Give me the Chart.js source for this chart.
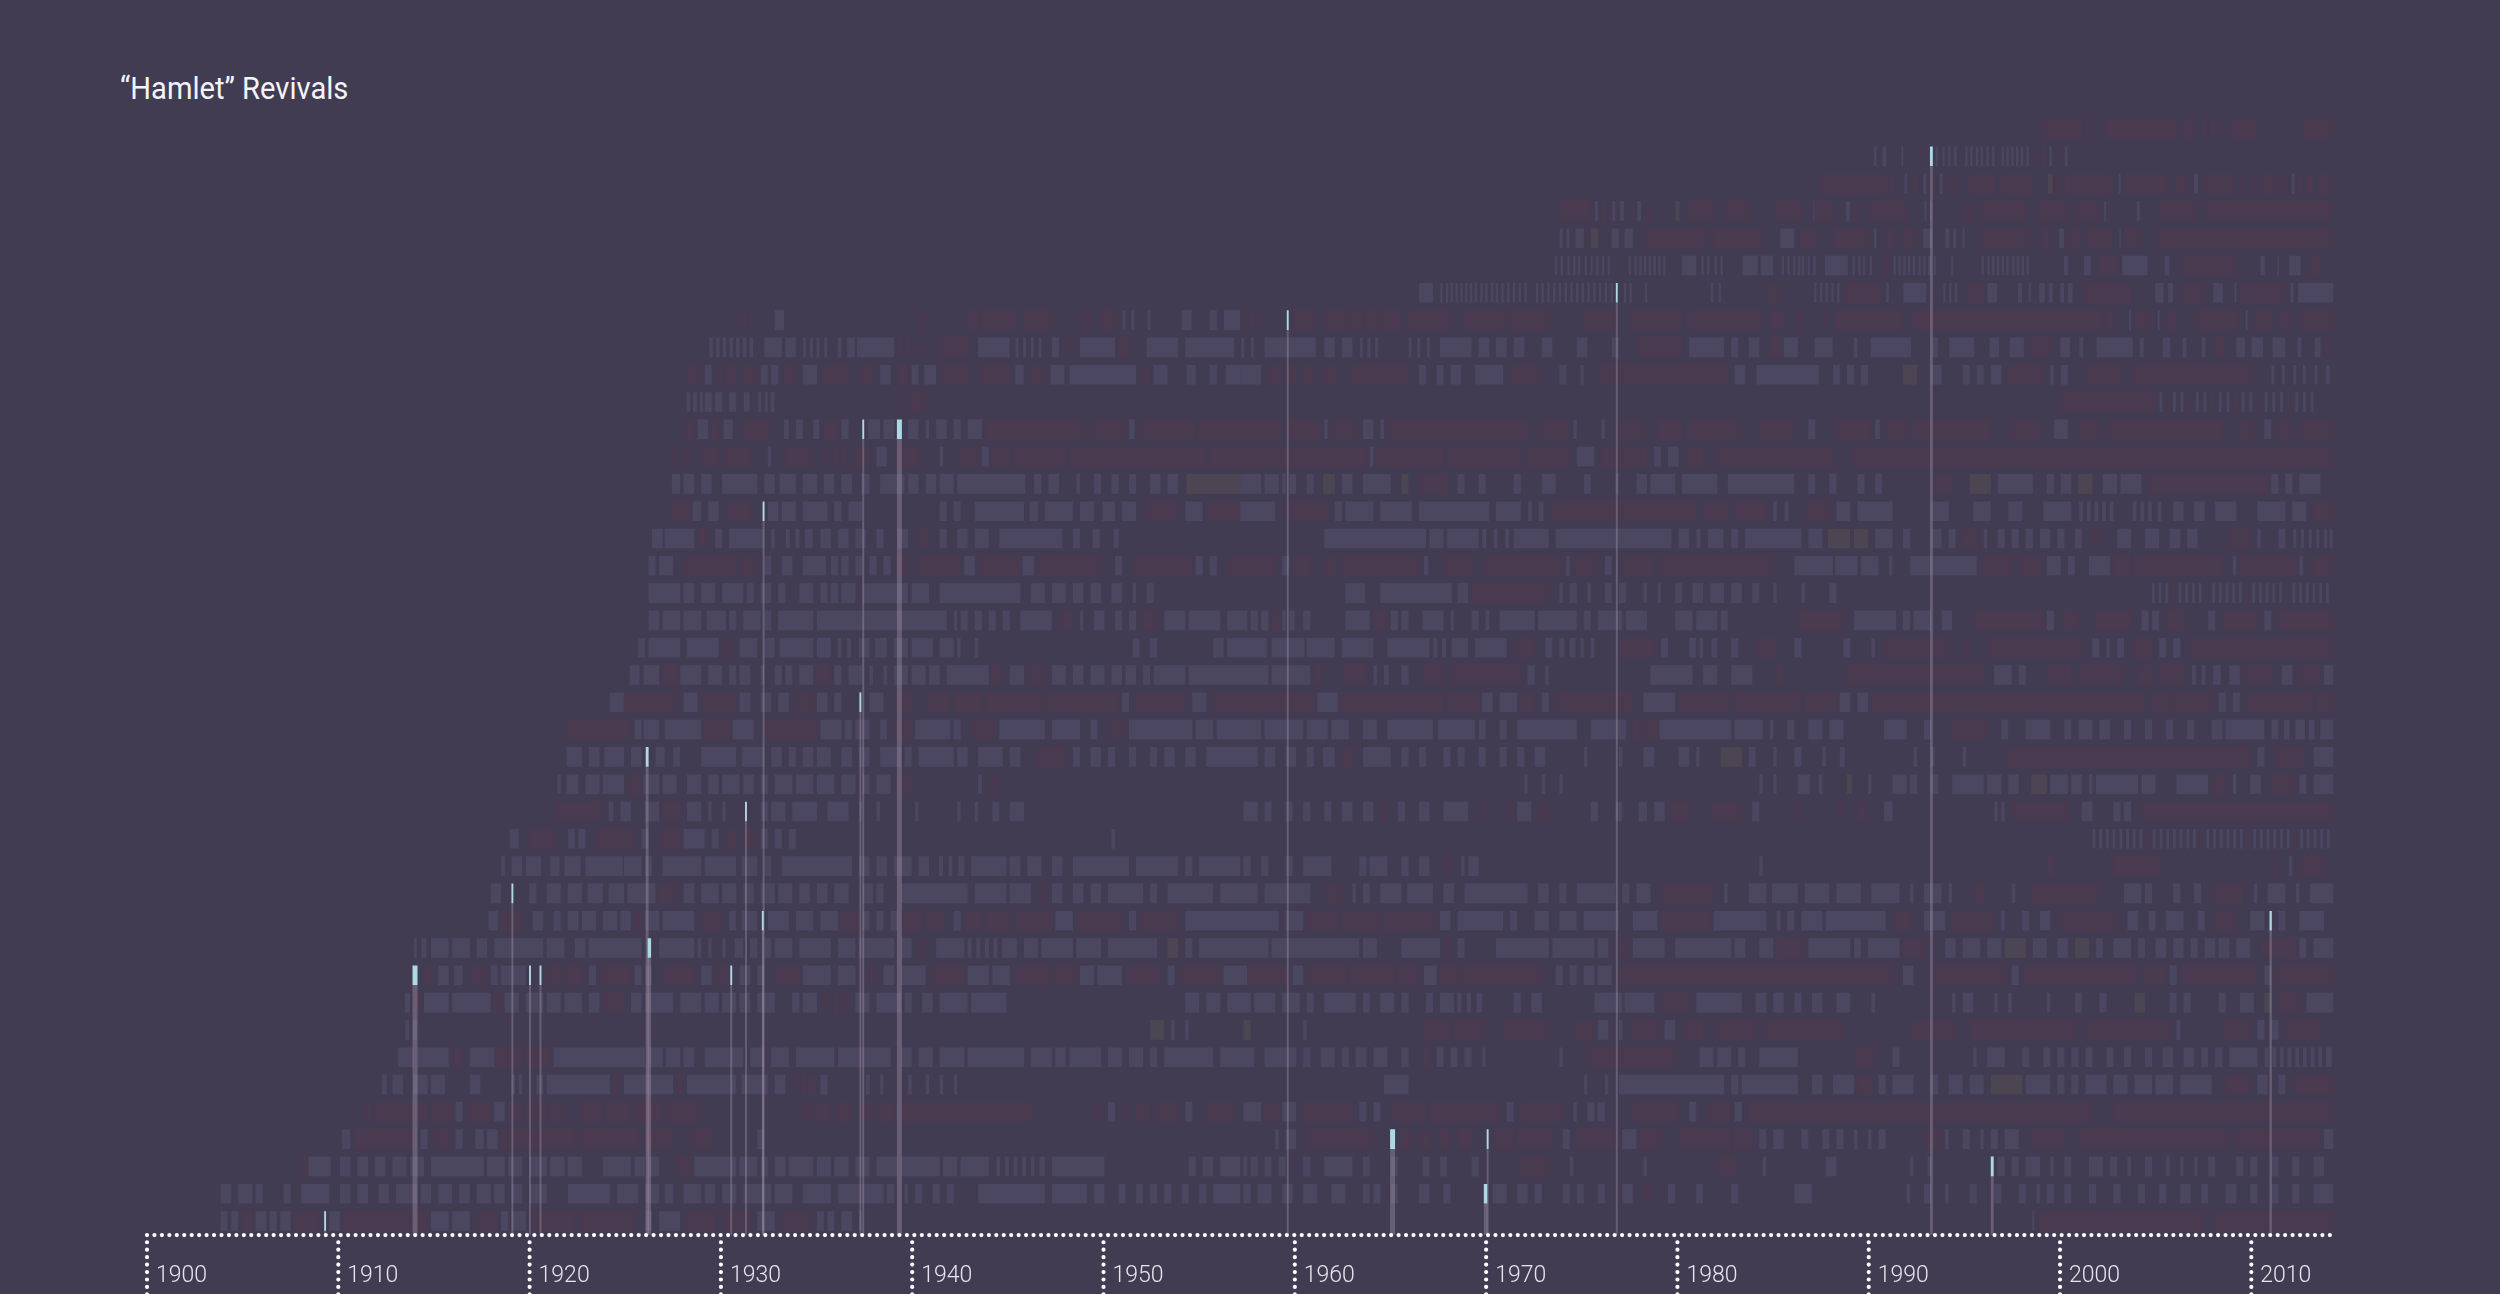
<!DOCTYPE html>
<html><head><meta charset="utf-8">
<script src="https://cdn.jsdelivr.net/npm/chart.js@4.4.1/dist/chart.umd.min.js"></script>
<style>
html,body{margin:0;padding:0;background:#423c53;overflow:hidden;}
#wrap{position:relative;width:2500px;height:1294px;}
#title{position:absolute;left:120px;top:72px;font-family:Roboto,"Noto Sans",sans-serif;font-size:32px;line-height:32px;color:#f4f3f8;white-space:nowrap;transform:scaleX(0.91);transform-origin:left top;}
canvas{position:absolute;left:0;top:0;}
</style></head>
<body><div id="wrap"><div id="title">“Hamlet” Revivals</div><canvas id="c" width="2500" height="1294"></canvas></div>
<script>
const chartTitle = '“Hamlet” Revivals';
const decades = [1900,1910,1920,1930,1940,1950,1960,1970,1980,1990,2000,2010];
// Hamlet productions: [row, start year, end year]
const hamlet = [[1,1993.2,1993.35],[6,1976.78,1976.88],[7,1959.58,1959.68],[11,1937.39,1937.49],[11,1939.2,1939.46],[14,1932.18,1932.28],[21,1937.24,1937.34],[23,1926.07,1926.22],[25,1931.26,1931.36],[28,1919.05,1919.15],[29,1932.14,1932.24],[30,1926.17,1926.35],[31,1913.88,1914.14],[31,1919.97,1920.07],[31,1920.52,1920.62],[31,1930.49,1930.59],[40,1909.26,1909.36],[37,1964.98,1965.24],[37,1970.03,1970.13],[39,1969.88,1970.06],[38,1996.38,1996.53],[29,2010.95,2011.07]];
// Other shows per row (theatre): [start, end, kind] kind g=gray m=maroon o=olive
const rows = [
/*0*/[[1999.1,2001.1,'m'],[2001.4,2001.7,'m'],[2002.4,2006.1,'m'],[2006.5,2007.0,'m'],[2007.45,2007.65,'m'],[2007.9,2008.1,'m'],[2008.35,2008.6,'m'],[2009.0,2010.2,'m'],[2012.65,2014.2,'m']],
/*1*/[[1990.27,1990.41,'g'],[1990.71,1990.91,'g'],[1991.71,1991.81,'g'],[1992.77,1992.91,'m'],[1993.5,1993.62,'g'],[1993.85,1993.97,'g'],[1994.15,1994.27,'g'],[1994.45,1994.6,'g'],[1995.05,1995.17,'g'],[1995.3,1995.42,'g'],[1995.6,1995.72,'g'],[1995.85,1995.97,'g'],[1996.15,1996.27,'g'],[1996.45,1996.57,'g'],[1996.95,1997.07,'g'],[1997.2,1997.32,'g'],[1997.45,1997.57,'g'],[1997.7,1997.82,'g'],[1997.95,1998.07,'g'],[1998.25,1998.37,'g'],[1998.75,1998.87,'m'],[1999.05,1999.2,'m'],[1999.45,1999.57,'g'],[1999.9,2000.05,'m'],[2000.25,2000.4,'g']],
/*2*/[[1987.41,1987.51,'m'],[1987.57,1990.97,'m'],[1991.15,1991.27,'m'],[1991.87,1992.01,'g'],[1992.31,1992.51,'m'],[1992.85,1993.01,'g'],[1993.21,1993.31,'m'],[1993.71,1993.85,'g'],[1994.21,1994.61,'m'],[1995.21,1996.61,'m'],[1996.87,1998.55,'m'],[1999.37,1999.61,'o'],[1999.77,2000.01,'m'],[2000.25,2002.71,'m'],[2003.07,2003.17,'g'],[2003.37,2005.57,'m'],[2006.11,2006.61,'m'],[2007.01,2007.21,'g'],[2007.47,2009.11,'m'],[2009.51,2009.65,'m'],[2009.99,2010.21,'m'],[2010.51,2011.31,'m'],[2011.41,2011.81,'m'],[2012.11,2012.25,'g'],[2012.41,2012.61,'m'],[2012.85,2013.21,'m'],[2013.51,2014.3,'m']],
/*3*/[[1973.9,1975.47,'m'],[1975.7,1975.85,'g'],[1976.1,1976.3,'m'],[1976.6,1976.75,'g'],[1977.0,1977.2,'g'],[1977.5,1977.7,'m'],[1977.9,1978.1,'g'],[1978.4,1978.6,'m'],[1979.9,1980.1,'o'],[1980.61,1981.89,'m'],[1982.44,1983.73,'m'],[1985.19,1986.48,'m'],[1987.11,1987.17,'g'],[1987.21,1988.11,'m'],[1988.81,1989.01,'g'],[1989.17,1989.51,'m'],[1990.05,1991.97,'m'],[1992.91,1993.01,'g'],[1993.21,1993.31,'g'],[1994.91,1995.41,'m'],[1995.85,1998.25,'m'],[1998.91,2000.45,'m'],[2000.85,2002.01,'m'],[2002.31,2002.41,'g'],[2004.01,2004.17,'g'],[2005.27,2007.11,'m'],[2007.57,2014.21,'m']],
/*4*/[[1973.85,1974.0,'g'],[1974.2,1974.35,'g'],[1974.67,1975.11,'g'],[1975.47,1975.84,'o'],[1976.57,1976.94,'g'],[1977.24,1977.67,'g'],[1978.22,1981.53,'m'],[1981.89,1984.46,'m'],[1985.38,1986.11,'g'],[1986.41,1987.25,'m'],[1988.17,1989.97,'m'],[1990.27,1990.41,'g'],[1990.77,1991.37,'m'],[1991.77,1992.41,'m'],[1992.85,1993.31,'g'],[1994.01,1994.21,'g'],[1994.41,1994.57,'g'],[1994.91,1995.01,'g'],[1995.81,1998.11,'m'],[1998.37,1998.57,'m'],[1999.01,1999.51,'m'],[1999.95,2000.21,'g'],[2000.37,2001.01,'m'],[2001.31,2002.71,'m'],[2003.11,2003.17,'g'],[2003.31,2004.21,'m'],[2004.97,2014.21,'m']],
/*5*/[[1973.6,1973.72,'g'],[1973.9,1974.02,'g'],[1974.25,1974.37,'g'],[1974.55,1974.67,'g'],[1974.8,1974.92,'g'],[1975.15,1975.27,'g'],[1975.45,1975.57,'g'],[1975.75,1975.87,'g'],[1976.05,1976.17,'g'],[1976.35,1976.47,'g'],[1977.45,1977.57,'g'],[1977.75,1977.87,'g'],[1978.0,1978.12,'g'],[1978.25,1978.37,'g'],[1978.5,1978.62,'g'],[1978.75,1978.87,'g'],[1979.0,1979.12,'g'],[1979.25,1979.37,'g'],[1980.24,1980.98,'g'],[1981.25,1981.37,'g'],[1981.55,1981.67,'g'],[1981.95,1982.07,'g'],[1982.25,1982.37,'g'],[1983.4,1984.2,'g'],[1984.35,1985.0,'g'],[1985.45,1985.57,'g'],[1985.75,1985.87,'g'],[1986.05,1986.17,'g'],[1986.3,1986.42,'g'],[1986.5,1986.62,'g'],[1986.8,1986.92,'g'],[1987.1,1987.22,'g'],[1987.71,1988.91,'g'],[1989.15,1989.27,'g'],[1989.45,1989.57,'g'],[1989.7,1989.82,'g'],[1990.05,1990.17,'g'],[1990.71,1991.11,'m'],[1991.3,1991.42,'g'],[1991.55,1991.67,'g'],[1991.8,1991.92,'g'],[1992.05,1992.17,'g'],[1992.3,1992.42,'g'],[1992.6,1992.72,'g'],[1992.85,1992.97,'g'],[1993.1,1993.22,'g'],[1993.4,1993.52,'g'],[1994.31,1994.41,'g'],[1995.9,1996.02,'g'],[1996.2,1996.32,'g'],[1996.45,1996.57,'g'],[1996.7,1996.82,'g'],[1996.95,1997.07,'g'],[1997.2,1997.32,'g'],[1997.5,1997.62,'g'],[1997.75,1997.87,'g'],[1998.0,1998.12,'g'],[1998.25,1998.37,'g'],[2000.21,2000.41,'g'],[2001.25,2001.61,'g'],[2001.97,2003.05,'m'],[2003.25,2004.57,'g'],[2005.47,2005.71,'g'],[2006.47,2009.21,'m'],[2010.47,2010.71,'g'],[2011.37,2011.45,'g'],[2011.97,2012.57,'g'],[2013.11,2013.65,'m']],
/*6*/[[1966.49,1967.22,'g'],[1967.6,1967.72,'g'],[1967.9,1968.02,'g'],[1968.15,1968.27,'g'],[1968.4,1968.52,'g'],[1968.65,1968.77,'g'],[1968.9,1969.02,'g'],[1969.15,1969.27,'g'],[1969.4,1969.52,'g'],[1969.7,1969.82,'g'],[1969.95,1970.07,'g'],[1970.25,1970.37,'g'],[1970.5,1970.62,'g'],[1970.8,1970.92,'g'],[1971.1,1971.22,'g'],[1971.4,1971.52,'g'],[1971.7,1971.82,'g'],[1972.0,1972.12,'g'],[1972.6,1972.72,'g'],[1972.9,1973.02,'g'],[1973.2,1973.32,'g'],[1973.5,1973.62,'g'],[1973.8,1973.92,'g'],[1974.1,1974.22,'g'],[1974.4,1974.52,'g'],[1974.7,1974.82,'g'],[1975.0,1975.12,'g'],[1975.3,1975.42,'g'],[1975.6,1975.72,'g'],[1975.9,1976.02,'g'],[1976.2,1976.32,'g'],[1976.5,1976.62,'g'],[1977.2,1977.32,'g'],[1977.5,1977.62,'g'],[1978.3,1978.42,'g'],[1981.75,1981.87,'g'],[1982.15,1982.27,'g'],[1984.8,1985.4,'m'],[1987.15,1987.27,'g'],[1987.45,1987.57,'g'],[1987.75,1987.87,'g'],[1988.05,1988.17,'g'],[1988.35,1988.47,'g'],[1988.71,1990.61,'m'],[1990.91,1991.05,'g'],[1991.81,1993.01,'g'],[1993.9,1994.02,'g'],[1994.2,1994.32,'g'],[1994.5,1994.62,'g'],[1995.21,1996.05,'m'],[1996.21,1996.71,'g'],[1997.81,1998.01,'g'],[1998.37,1998.47,'g'],[1998.91,1999.21,'g'],[1999.41,1999.61,'g'],[2000.01,2000.21,'g'],[2000.41,2000.65,'g'],[2001.25,2003.71,'m'],[2004.97,2005.41,'g'],[2005.65,2005.91,'g'],[2006.35,2007.61,'m'],[2008.01,2008.51,'g'],[2009.11,2009.21,'g'],[2009.47,2011.77,'m'],[2012.05,2012.21,'g'],[2012.45,2014.3,'g']],
/*7*/[[1931.2,1931.35,'m'],[1931.55,1931.7,'m'],[1932.82,1933.3,'g'],[1940.33,1940.7,'m'],[1942.9,1943.45,'m'],[1943.64,1945.47,'m'],[1945.84,1947.3,'m'],[1948.8,1949.0,'m'],[1949.2,1949.4,'m'],[1949.8,1950.6,'m'],[1951.0,1951.15,'g'],[1951.45,1951.6,'g'],[1952.3,1952.45,'g'],[1954.1,1954.6,'g'],[1955.55,1955.92,'g'],[1956.3,1957.14,'g'],[1957.3,1957.45,'m'],[1957.7,1957.85,'m'],[1958.2,1958.4,'m'],[1959.89,1961.17,'m'],[1961.47,1962.82,'m'],[1963.0,1963.56,'m'],[1963.74,1964.47,'m'],[1964.66,1965.57,'m'],[1965.94,1968.14,'m'],[1968.8,1970.89,'m'],[1971.07,1973.27,'m'],[1975.11,1976.76,'m'],[1977.49,1980.24,'m'],[1980.61,1984.35,'m'],[1984.82,1985.56,'m'],[1986.11,1986.48,'m'],[1987.58,1987.76,'m'],[1988.17,1991.77,'m'],[1992.31,2002.21,'m'],[2002.41,2002.81,'m'],[2003.61,2003.71,'g'],[2004.01,2004.65,'m'],[2005.11,2005.21,'g'],[2005.51,2006.11,'m'],[2007.07,2009.31,'m'],[2009.71,2009.81,'g'],[2010.11,2011.11,'m'],[2011.51,2012.21,'m'],[2012.51,2014.3,'m']],
/*8*/[[1929.4,1929.58,'g'],[1929.75,1929.93,'g'],[1930.1,1930.28,'g'],[1930.45,1930.63,'g'],[1930.8,1930.98,'g'],[1931.15,1931.33,'g'],[1931.5,1931.68,'g'],[1932.27,1933.18,'g'],[1933.37,1933.92,'g'],[1934.3,1934.45,'g'],[1934.65,1934.8,'g'],[1935.0,1935.15,'g'],[1935.4,1935.55,'g'],[1936.1,1936.3,'g'],[1936.6,1937.0,'g'],[1937.11,1939.05,'g'],[1939.3,1939.45,'m'],[1939.7,1939.85,'m'],[1940.1,1940.25,'m'],[1940.6,1940.75,'m'],[1941.0,1941.15,'m'],[1941.44,1942.9,'m'],[1943.45,1945.1,'g'],[1945.4,1945.55,'g'],[1945.8,1945.95,'g'],[1946.2,1946.35,'g'],[1946.6,1946.75,'g'],[1947.3,1947.67,'g'],[1948.11,1948.4,'m'],[1948.77,1950.6,'g'],[1950.79,1951.33,'m'],[1952.25,1953.9,'g'],[1954.27,1956.84,'g'],[1957.2,1957.35,'g'],[1957.7,1957.85,'g'],[1958.42,1961.1,'g'],[1961.54,1962.09,'g'],[1962.46,1963.01,'g'],[1963.4,1963.55,'g'],[1963.8,1963.95,'g'],[1964.2,1964.35,'g'],[1965.95,1966.1,'g'],[1966.4,1966.55,'g'],[1966.9,1967.05,'g'],[1967.59,1969.24,'g'],[1969.6,1970.16,'g'],[1970.52,1971.07,'g'],[1971.44,1971.99,'g'],[1972.9,1973.46,'g'],[1974.74,1975.29,'g'],[1976.57,1976.94,'g'],[1977.86,1980.24,'m'],[1980.61,1982.44,'g'],[1982.81,1983.18,'g'],[1983.73,1984.28,'g'],[1984.83,1985.38,'m'],[1985.56,1986.29,'g'],[1987.17,1988.11,'g'],[1989.21,1989.41,'g'],[1990.11,1992.21,'g'],[1993.31,1993.61,'g'],[1994.21,1995.51,'g'],[1996.31,1996.81,'g'],[1997.37,1998.11,'g'],[1998.37,1999.51,'m'],[2000.01,2000.51,'g'],[2001.01,2001.21,'g'],[2001.91,2003.81,'g'],[2004.17,2004.37,'g'],[2005.37,2005.77,'g'],[2006.41,2006.61,'g'],[2007.41,2007.61,'g'],[2008.11,2008.61,'m'],[2009.21,2009.67,'g'],[2010.01,2010.61,'g'],[2011.11,2011.77,'g'],[2012.41,2012.61,'g'],[2013.31,2013.61,'g'],[2013.91,2014.21,'m']],
/*9*/[[1928.23,1928.96,'m'],[1929.15,1929.52,'g'],[1929.7,1930.07,'m'],[1930.25,1930.8,'m'],[1931.09,1931.9,'m'],[1932.08,1932.45,'g'],[1932.63,1933.0,'g'],[1933.3,1933.92,'m'],[1934.28,1935.02,'g'],[1935.27,1936.67,'m'],[1937.22,1937.95,'m'],[1938.32,1938.87,'g'],[1939.23,1939.78,'m'],[1939.97,1940.33,'g'],[1940.63,1941.25,'g'],[1941.44,1942.9,'m'],[1943.45,1945.1,'m'],[1945.4,1945.83,'g'],[1946.27,1946.93,'m'],[1947.23,1947.96,'g'],[1948.22,1951.7,'g'],[1951.88,1952.43,'m'],[1952.62,1953.35,'g'],[1954.34,1954.82,'g'],[1955.55,1955.92,'g'],[1956.4,1957.14,'g'],[1957.14,1958.24,'g'],[1958.61,1959.16,'m'],[1959.52,1960.07,'m'],[1960.37,1960.99,'m'],[1961.47,1962.09,'m'],[1963.01,1965.94,'m'],[1966.49,1966.86,'g'],[1967.41,1967.77,'g'],[1968.14,1968.69,'g'],[1969.42,1970.89,'g'],[1971.26,1972.91,'m'],[1973.83,1974.19,'g'],[1974.92,1975.11,'g'],[1975.91,1982.63,'m'],[1982.99,1983.54,'g'],[1984.13,1987.39,'g'],[1988.13,1988.49,'g'],[1988.86,1989.23,'g'],[1989.59,1989.96,'g'],[1991.79,1992.53,'o'],[1993.26,1993.81,'g'],[1994.91,1995.28,'g'],[1995.64,1996.01,'g'],[1996.38,1996.93,'g'],[1997.29,1999.13,'m'],[1999.49,1999.68,'g'],[2000.04,2000.41,'g'],[2001.44,2003.16,'m'],[2003.71,2010.13,'m'],[2011.05,2011.2,'g'],[2011.6,2011.75,'g'],[2012.2,2012.35,'g'],[2012.7,2012.85,'g'],[2013.3,2013.45,'g'],[2013.9,2014.1,'g']],
/*10*/[[1928.2,1928.4,'g'],[1928.55,1928.75,'g'],[1928.9,1929.05,'g'],[1929.15,1929.52,'g'],[1929.7,1930.07,'g'],[1930.43,1930.8,'g'],[1931.2,1931.5,'g'],[1931.95,1932.1,'g'],[1932.3,1932.45,'g'],[1932.6,1932.8,'g'],[1939.53,1939.78,'m'],[1939.97,1940.7,'m'],[1999.97,2004.99,'m'],[2005.2,2005.35,'g'],[2005.55,2005.7,'m'],[2005.9,2006.05,'g'],[2006.3,2006.45,'g'],[2006.7,2006.85,'m'],[2007.1,2007.25,'g'],[2007.5,2007.65,'g'],[2007.9,2008.05,'m'],[2008.3,2008.45,'g'],[2008.7,2008.85,'g'],[2009.1,2009.25,'m'],[2009.5,2009.65,'g'],[2009.9,2010.05,'g'],[2010.3,2010.45,'m'],[2010.7,2010.85,'g'],[2011.1,2011.25,'g'],[2011.5,2011.65,'g'],[2011.9,2012.05,'m'],[2012.3,2012.45,'g'],[2012.7,2012.85,'g'],[2013.1,2013.25,'g']],
/*11*/[[1928.05,1928.6,'m'],[1928.78,1929.33,'g'],[1929.52,1929.88,'m'],[1930.14,1930.62,'g'],[1931.09,1932.56,'m'],[1933.3,1933.55,'g'],[1933.92,1934.28,'g'],[1934.83,1935.13,'g'],[1935.38,1936.12,'m'],[1936.3,1936.67,'g'],[1937.69,1938.32,'g'],[1938.5,1939.05,'g'],[1939.78,1940.33,'g'],[1940.7,1940.88,'g'],[1941.25,1941.8,'g'],[1942.17,1942.53,'g'],[1942.9,1943.64,'g'],[1943.82,1948.95,'m'],[1949.32,1951.15,'m'],[1951.33,1951.63,'g'],[1951.88,1954.82,'m'],[1955.0,1959.16,'m'],[1959.52,1961.36,'m'],[1961.54,1961.72,'g'],[1961.91,1963.19,'m'],[1963.56,1964.11,'g'],[1964.47,1964.66,'g'],[1964.84,1972.17,'m'],[1972.72,1974.37,'m'],[1974.56,1974.74,'g'],[1976.02,1976.21,'g'],[1976.94,1978.22,'m'],[1978.96,1980.24,'m'],[1980.61,1983.25,'m'],[1984.2,1986.11,'m'],[1986.84,1987.21,'g'],[1988.24,1990.07,'m'],[1990.33,1990.58,'g'],[1990.88,1991.98,'m'],[1992.34,1996.38,'m'],[1997.4,1998.95,'m'],[1999.68,2000.41,'g'],[2001.07,2002.06,'m'],[2002.43,2008.48,'m'],[2009.29,2010.13,'m'],[2010.68,2011.05,'g'],[2011.34,2012.14,'m'],[2012.51,2014.3,'m']],
/*12*/[[1927.5,1927.7,'m'],[1928.0,1928.4,'m'],[1928.97,1929.88,'m'],[1930.07,1931.53,'m'],[1932.45,1932.63,'g'],[1933.37,1934.83,'m'],[1935.4,1935.6,'m'],[1935.9,1936.1,'m'],[1936.3,1936.6,'m'],[1937.03,1937.77,'m'],[1938.13,1938.68,'g'],[1939.23,1940.33,'m'],[1941.44,1941.62,'g'],[1942.53,1943.45,'m'],[1943.64,1944.0,'g'],[1944.19,1945.1,'m'],[1945.28,1948.03,'m'],[1948.22,1955.37,'m'],[1955.55,1963.74,'m'],[1963.92,1964.11,'g'],[1964.29,1967.77,'m'],[1967.96,1971.81,'m'],[1972.17,1974.37,'m'],[1974.74,1975.66,'g'],[1976.02,1978.41,'m'],[1978.78,1979.14,'g'],[1979.51,1980.06,'g'],[1980.43,1981.34,'m'],[1982.08,1988.13,'m'],[1989.04,2014.3,'m']],
/*13*/[[1927.43,1927.87,'g'],[1928.05,1928.6,'g'],[1928.97,1929.52,'g'],[1930.07,1931.9,'g'],[1932.27,1932.82,'g'],[1933.07,1933.92,'g'],[1934.28,1935.02,'g'],[1935.38,1935.93,'g'],[1936.3,1936.85,'g'],[1937.33,1937.77,'g'],[1938.32,1939.6,'g'],[1939.78,1940.33,'g'],[1940.7,1941.25,'g'],[1941.44,1942.17,'g'],[1942.35,1945.91,'g'],[1946.38,1946.75,'g'],[1947.12,1947.67,'g'],[1948.58,1948.77,'g'],[1949.5,1949.87,'g'],[1950.42,1950.79,'g'],[1951.33,1951.7,'g'],[1952.43,1952.98,'g'],[1953.35,1953.9,'g'],[1954.34,1957.14,'o'],[1957.14,1958.24,'g'],[1958.42,1959.16,'g'],[1959.34,1959.52,'g'],[1959.71,1960.07,'g'],[1960.62,1960.99,'g'],[1961.47,1962.09,'o'],[1962.46,1963.01,'g'],[1963.56,1965.02,'g'],[1965.57,1965.94,'o'],[1966.49,1967.96,'m'],[1968.51,1968.87,'g'],[1969.61,1969.97,'g'],[1971.44,1971.81,'g'],[1972.91,1973.64,'g'],[1975.11,1975.47,'g'],[1976.76,1976.94,'g'],[1977.86,1978.41,'g'],[1978.59,1979.88,'g'],[1980.24,1982.08,'g'],[1982.63,1986.11,'g'],[1986.84,1987.21,'g'],[1987.94,1988.31,'g'],[1989.41,1989.78,'g'],[1990.33,1990.69,'g'],[1993.26,1994.36,'m'],[1995.28,1996.38,'o'],[1996.74,1998.58,'g'],[1999.31,1999.68,'g'],[2000.04,2000.59,'g'],[2000.96,2001.69,'o'],[2002.24,2002.98,'g'],[2003.16,2004.26,'g'],[2004.63,2010.86,'m'],[2011.05,2011.41,'g'],[2011.78,2012.14,'g'],[2012.51,2013.61,'g']],
/*14*/[[1927.32,1928.42,'m'],[1928.53,1928.97,'g'],[1929.33,1929.88,'g'],[1930.25,1931.53,'m'],[1932.45,1933.0,'g'],[1933.18,1933.92,'g'],[1934.28,1935.57,'g'],[1935.93,1936.3,'g'],[1936.67,1937.4,'g'],[1941.44,1941.8,'g'],[1942.17,1942.53,'g'],[1943.27,1945.84,'g'],[1946.13,1946.57,'g'],[1946.93,1948.4,'g'],[1948.77,1949.5,'g'],[1949.94,1950.6,'g'],[1950.97,1951.7,'g'],[1952.25,1953.9,'m'],[1954.27,1955.18,'g'],[1955.37,1957.14,'m'],[1957.14,1958.97,'g'],[1959.52,1961.72,'m'],[1962.09,1962.46,'g'],[1962.64,1964.11,'g'],[1964.47,1966.12,'g'],[1966.49,1970.16,'g'],[1970.52,1971.81,'g'],[1972.2,1972.4,'g'],[1972.75,1973.0,'g'],[1973.46,1980.98,'m'],[1981.34,1982.63,'m'],[1982.99,1984.64,'m'],[1985.0,1985.2,'g'],[1985.6,1985.8,'g'],[1986.66,1987.94,'m'],[1988.31,1989.04,'g'],[1989.41,1991.24,'g'],[1993.26,1994.18,'g'],[1995.46,1996.38,'g'],[1997.29,1998.03,'g'],[1999.13,2000.59,'g'],[2001.0,2001.2,'g'],[2001.4,2001.6,'g'],[2001.8,2002.0,'g'],[2002.2,2002.4,'g'],[2002.6,2002.8,'g'],[2003.8,2004.0,'g'],[2004.2,2004.4,'g'],[2004.6,2004.8,'g'],[2005.1,2005.3,'g'],[2005.91,2006.46,'g'],[2007.01,2007.56,'g'],[2008.11,2009.21,'g'],[2010.31,2011.78,'g'],[2012.14,2012.88,'g'],[2013.25,2014.3,'m']],
/*15*/[[1926.4,1926.95,'g'],[1927.06,1928.6,'g'],[1928.78,1929.33,'m'],[1929.7,1930.07,'g'],[1930.43,1932.27,'g'],[1932.63,1932.82,'g'],[1933.4,1933.6,'g'],[1933.9,1934.1,'g'],[1934.4,1934.8,'g'],[1935.2,1935.75,'g'],[1936.12,1936.67,'g'],[1937.03,1937.58,'g'],[1938.13,1938.5,'g'],[1939.23,1939.78,'g'],[1940.33,1940.88,'m'],[1941.44,1941.8,'g'],[1942.35,1942.9,'g'],[1943.27,1944.0,'g'],[1944.55,1947.85,'g'],[1948.4,1948.77,'g'],[1949.43,1949.8,'g'],[1950.53,1950.79,'g'],[1961.54,1966.86,'g'],[1967.04,1967.77,'g'],[1967.96,1969.61,'g'],[1969.8,1970.0,'g'],[1970.4,1970.6,'g'],[1971.0,1971.2,'g'],[1971.44,1973.27,'g'],[1973.64,1979.69,'g'],[1980.06,1980.61,'g'],[1981.0,1981.2,'g'],[1981.6,1982.4,'g'],[1982.81,1983.18,'g'],[1983.54,1986.48,'g'],[1986.84,1987.58,'g'],[1987.87,1989.04,'o'],[1989.23,1989.96,'o'],[1990.33,1991.24,'g'],[1991.79,1992.16,'g'],[1993.26,1993.81,'g'],[1994.18,1994.54,'g'],[1994.84,1995.64,'m'],[1996.01,1996.19,'g'],[1996.74,1997.11,'g'],[1997.48,1997.84,'g'],[1998.21,1998.58,'g'],[1998.95,1999.49,'g'],[1999.86,2000.23,'g'],[2000.78,2001.14,'g'],[2001.69,2002.06,'m'],[2002.98,2003.71,'g'],[2004.45,2005.18,'g'],[2005.73,2006.28,'g'],[2006.64,2007.19,'g'],[2008.77,2009.94,'m'],[2010.31,2010.49,'g'],[2011.41,2011.78,'g'],[2012.2,2012.35,'g'],[2012.6,2012.75,'g'],[2013.0,2013.15,'g'],[2013.4,2013.55,'g'],[2013.8,2013.95,'g'],[2014.1,2014.25,'g']],
/*16*/[[1926.22,1926.58,'g'],[1926.77,1927.5,'g'],[1928.05,1930.8,'m'],[1930.98,1931.9,'m'],[1932.27,1932.63,'g'],[1933.18,1933.73,'g'],[1934.28,1935.49,'g'],[1935.75,1936.12,'g'],[1936.3,1936.67,'g'],[1937.03,1937.4,'g'],[1937.77,1938.13,'g'],[1938.5,1938.87,'g'],[1939.23,1939.78,'m'],[1940.33,1942.53,'m'],[1942.72,1943.27,'g'],[1943.45,1945.65,'m'],[1945.76,1946.38,'g'],[1946.57,1949.87,'m'],[1950.6,1950.97,'g'],[1951.52,1954.64,'m'],[1954.82,1955.18,'g'],[1955.55,1955.92,'g'],[1956.47,1958.97,'m'],[1959.34,1959.71,'g'],[1959.89,1960.81,'m'],[1961.54,1962.09,'m'],[1962.46,1966.49,'m'],[1966.75,1966.97,'g'],[1967.7,1969.24,'m'],[1969.79,1973.83,'m'],[1974.19,1974.37,'g'],[1974.67,1975.84,'m'],[1976.21,1976.57,'g'],[1977.12,1978.78,'m'],[1979.07,1985.01,'m'],[1986.11,1988.13,'g'],[1988.24,1989.41,'g'],[1989.59,1990.51,'g'],[1991.06,1991.24,'g'],[1992.16,1995.64,'g'],[1996.01,1997.48,'m'],[1997.84,1998.95,'m'],[1999.31,2000.04,'g'],[2000.41,2000.78,'g'],[2001.51,2002.61,'g'],[2002.79,2003.71,'m'],[2003.89,2008.48,'m'],[2009.03,2009.21,'g'],[2009.4,2012.33,'m'],[2012.51,2012.7,'g'],[2013.25,2014.3,'m']],
/*17*/[[1926.22,1927.87,'g'],[1928.05,1928.6,'g'],[1928.97,1929.7,'g'],[1930.07,1931.17,'g'],[1931.35,1931.72,'g'],[1932.08,1932.63,'g'],[1933.0,1933.37,'g'],[1934.1,1934.83,'g'],[1935.2,1935.57,'g'],[1935.75,1936.12,'g'],[1936.3,1937.03,'g'],[1937.4,1939.78,'g'],[1939.97,1940.88,'g'],[1941.44,1945.65,'g'],[1946.2,1946.93,'g'],[1947.3,1948.03,'g'],[1948.4,1948.95,'g'],[1949.32,1949.87,'g'],[1950.42,1950.97,'g'],[1951.52,1951.7,'g'],[1952.25,1952.62,'g'],[1962.64,1963.67,'g'],[1964.47,1968.21,'g'],[1968.51,1969.06,'g'],[1969.17,1973.27,'m'],[1973.83,1974.01,'g'],[1974.37,1974.74,'g'],[1975.29,1975.47,'g'],[1976.21,1976.57,'g'],[1976.94,1977.31,'g'],[1978.22,1978.41,'g'],[1978.96,1979.14,'g'],[1979.88,1980.24,'g'],[1980.79,1981.34,'g'],[1981.71,1982.44,'g'],[1982.81,1983.36,'g'],[1983.91,1984.28,'g'],[1985.01,1985.19,'g'],[1986.48,1986.66,'g'],[1987.94,1988.31,'g'],[2004.8,2004.95,'g'],[2005.15,2005.3,'g'],[2005.5,2005.65,'g'],[2005.85,2006.0,'m'],[2006.2,2006.35,'g'],[2006.55,2006.7,'g'],[2006.9,2007.05,'g'],[2007.25,2007.4,'g'],[2007.6,2007.75,'m'],[2007.95,2008.1,'g'],[2008.3,2008.45,'g'],[2008.65,2008.8,'g'],[2009.0,2009.15,'g'],[2009.35,2009.5,'g'],[2009.7,2009.85,'m'],[2010.05,2010.2,'g'],[2010.4,2010.55,'g'],[2010.75,2010.9,'g'],[2011.1,2011.25,'g'],[2011.45,2011.6,'g'],[2011.8,2011.95,'m'],[2012.15,2012.3,'g'],[2012.5,2012.65,'g'],[2012.85,2013.0,'g'],[2013.2,2013.35,'g'],[2013.55,2013.7,'g'],[2013.9,2014.05,'g']],
/*18*/[[1926.22,1926.77,'g'],[1926.95,1927.87,'g'],[1928.05,1928.97,'g'],[1929.26,1930.25,'g'],[1930.43,1930.8,'g'],[1931.17,1932.08,'g'],[1932.27,1932.63,'g'],[1933.0,1934.83,'g'],[1935.02,1941.8,'g'],[1942.17,1942.35,'g'],[1942.53,1942.9,'g'],[1943.27,1943.64,'g'],[1944.0,1944.37,'g'],[1944.73,1945.1,'g'],[1945.65,1947.3,'g'],[1947.67,1948.4,'m'],[1948.77,1948.95,'g'],[1949.5,1950.05,'g'],[1950.6,1950.97,'g'],[1951.33,1951.7,'g'],[1952.07,1952.8,'m'],[1953.17,1954.27,'g'],[1954.45,1956.1,'g'],[1956.47,1957.51,'g'],[1957.69,1958.06,'g'],[1958.24,1958.61,'g'],[1958.79,1959.16,'m'],[1959.34,1959.52,'g'],[1959.71,1960.0,'g'],[1960.44,1960.81,'g'],[1962.64,1963.92,'g'],[1964.11,1964.84,'m'],[1965.02,1965.39,'g'],[1965.57,1965.94,'g'],[1966.67,1967.77,'g'],[1968.14,1968.32,'g'],[1969.24,1969.61,'g'],[1969.97,1970.16,'g'],[1970.71,1972.54,'g'],[1972.72,1974.74,'g'],[1975.11,1975.47,'g'],[1975.84,1977.12,'g'],[1977.31,1978.41,'g'],[1979.88,1980.79,'g'],[1980.98,1982.08,'g'],[1982.26,1982.63,'g'],[1986.29,1988.75,'m'],[1989.23,1991.43,'g'],[1991.79,1992.16,'g'],[1992.34,1993.26,'g'],[1993.81,1994.36,'g'],[1995.46,1999.13,'m'],[1999.31,1999.68,'g'],[2000.23,2000.96,'m'],[2001.88,2003.71,'m'],[2004.26,2004.63,'g'],[2004.81,2005.18,'g'],[2005.54,2006.46,'m'],[2007.74,2008.11,'g'],[2008.48,2010.31,'m'],[2010.68,2011.05,'g'],[2011.41,2014.3,'m']],
/*19*/[[1925.67,1926.03,'g'],[1926.22,1927.87,'g'],[1928.23,1929.88,'g'],[1930.07,1930.62,'m'],[1930.98,1931.9,'g'],[1932.27,1932.82,'g'],[1933.07,1934.83,'g'],[1935.02,1935.75,'g'],[1936.1,1936.3,'g'],[1936.6,1936.8,'g'],[1937.2,1937.77,'g'],[1938.06,1938.68,'g'],[1939.05,1939.78,'g'],[1939.97,1941.07,'g'],[1941.44,1942.17,'g'],[1942.35,1942.53,'g'],[1943.27,1943.45,'g'],[1951.52,1951.88,'g'],[1952.43,1952.8,'g'],[1955.73,1956.28,'g'],[1956.47,1958.53,'g'],[1958.79,1960.51,'g'],[1960.62,1962.09,'g'],[1962.46,1964.11,'g'],[1964.84,1967.04,'g'],[1967.25,1967.45,'g'],[1967.7,1967.9,'g'],[1968.2,1969.06,'g'],[1969.42,1971.07,'g'],[1971.62,1972.54,'m'],[1973.09,1973.46,'g'],[1973.83,1974.08,'g'],[1974.37,1974.67,'g'],[1974.92,1975.11,'g'],[1975.47,1975.66,'g'],[1976.94,1978.78,'m'],[1979.14,1979.51,'g'],[1980.61,1980.98,'g'],[1981.16,1981.34,'g'],[1981.78,1982.08,'g'],[1982.81,1983.18,'g'],[1984.09,1985.19,'m'],[1986.11,1986.48,'g'],[1988.68,1989.04,'g'],[1990.14,1990.33,'g'],[1990.8,1994.18,'m'],[1994.91,1995.28,'m'],[1996.19,2001.14,'m'],[2001.69,2002.06,'g'],[2002.43,2002.61,'g'],[2002.98,2003.34,'g'],[2003.71,2004.81,'m'],[2005.18,2005.54,'g'],[2005.91,2006.28,'g'],[2006.83,2014.3,'m']],
/*20*/[[1925.23,1925.74,'g'],[1925.96,1926.77,'g'],[1926.95,1927.79,'m'],[1927.87,1928.97,'g'],[1929.33,1930.07,'g'],[1930.43,1930.8,'g'],[1930.98,1931.53,'g'],[1932.08,1932.27,'g'],[1932.82,1933.18,'g'],[1933.37,1933.73,'g'],[1934.1,1934.83,'g'],[1935.02,1935.75,'m'],[1935.93,1936.3,'g'],[1936.67,1937.4,'g'],[1937.77,1937.95,'g'],[1938.5,1938.68,'g'],[1939.05,1939.78,'g'],[1939.97,1940.7,'g'],[1940.88,1941.44,'g'],[1941.8,1944.0,'g'],[1944.19,1944.73,'m'],[1945.1,1945.84,'g'],[1946.02,1946.93,'m'],[1947.3,1948.03,'g'],[1948.4,1948.95,'g'],[1949.32,1950.05,'g'],[1950.42,1950.97,'g'],[1951.15,1951.7,'g'],[1952.07,1952.43,'g'],[1952.62,1954.27,'g'],[1954.45,1958.61,'g'],[1958.79,1960.81,'g'],[1960.99,1961.36,'m'],[1962.46,1963.74,'m'],[1964.11,1964.29,'g'],[1964.66,1964.91,'g'],[1965.57,1965.94,'g'],[1966.67,1967.77,'m'],[1968.14,1971.81,'m'],[1972.17,1972.54,'g'],[1973.09,1973.27,'g'],[1978.59,1980.79,'g'],[1981.34,1982.08,'g'],[1982.81,1983.91,'g'],[1985.19,1985.56,'m'],[1988.86,1996.01,'m'],[1996.56,1997.48,'g'],[1997.84,1998.21,'g'],[1999.31,2000.59,'m'],[2000.96,2003.34,'m'],[2004.08,2004.81,'m'],[2005.18,2006.46,'m'],[2006.9,2007.1,'g'],[2007.4,2007.6,'g'],[2008.0,2008.4,'g'],[2008.85,2009.4,'g'],[2009.58,2011.05,'m'],[2011.6,2012.14,'g'],[2012.51,2013.61,'m'],[2013.8,2014.3,'g']],
/*21*/[[1924.2,1924.93,'g'],[1924.93,1927.68,'m'],[1928.05,1928.78,'g'],[1928.97,1930.8,'m'],[1930.98,1931.53,'g'],[1932.08,1932.63,'g'],[1933.0,1933.55,'g'],[1933.92,1934.83,'m'],[1935.02,1935.57,'g'],[1935.93,1936.3,'g'],[1937.77,1938.5,'g'],[1939.23,1939.97,'m'],[1940.88,1941.98,'m'],[1942.17,1943.64,'m'],[1943.82,1946.93,'m'],[1947.12,1950.79,'m'],[1950.97,1951.33,'g'],[1951.7,1954.27,'m'],[1954.64,1955.37,'g'],[1955.73,1960.99,'m'],[1961.17,1962.27,'g'],[1962.27,1967.77,'m'],[1967.96,1969.61,'m'],[1969.79,1970.34,'g'],[1970.71,1971.62,'g'],[1971.81,1972.54,'m'],[1972.91,1973.27,'g'],[1973.57,1977.67,'m'],[1978.22,1979.88,'g'],[1980.06,1982.63,'m'],[1982.81,1986.48,'m'],[1986.66,1988.31,'m'],[1988.49,1989.04,'g'],[1989.41,1989.96,'g'],[1990.14,2004.44,'m'],[2004.81,2005.91,'m'],[2006.09,2007.93,'m'],[2008.29,2008.66,'g'],[2009.03,2009.4,'g'],[2009.76,2013.25,'m'],[2013.43,2014.3,'m']],
/*22*/[[1921.93,1925.3,'m'],[1925.48,1925.85,'g'],[1925.96,1926.77,'g'],[1927.06,1928.97,'g'],[1929.15,1930.43,'m'],[1930.62,1931.72,'g'],[1932.27,1935.02,'m'],[1935.2,1936.3,'g'],[1936.48,1936.85,'g'],[1937.03,1937.77,'g'],[1938.32,1938.68,'g'],[1939.05,1939.97,'m'],[1940.15,1941.98,'g'],[1942.17,1942.53,'g'],[1943.08,1944.37,'m'],[1944.55,1946.93,'g'],[1947.3,1948.77,'g'],[1949.32,1949.68,'g'],[1950.42,1951.15,'m'],[1951.33,1954.64,'g'],[1954.82,1955.73,'g'],[1955.92,1958.24,'g'],[1958.42,1960.44,'g'],[1960.62,1961.72,'g'],[1961.91,1962.82,'g'],[1963.56,1964.29,'g'],[1964.84,1967.22,'g'],[1967.48,1969.42,'g'],[1969.61,1969.97,'g'],[1970.71,1971.07,'g'],[1971.62,1974.74,'g'],[1975.47,1977.31,'g'],[1977.67,1978.04,'m'],[1978.22,1978.96,'m'],[1979.07,1982.81,'g'],[1982.99,1984.46,'g'],[1984.83,1985.01,'g'],[1985.74,1986.11,'g'],[1986.84,1987.58,'g'],[1987.94,1988.68,'g'],[1990.8,1991.98,'g'],[1992.89,1993.26,'g'],[1994.36,1996.19,'m'],[1996.93,1997.29,'g'],[1998.21,1999.49,'g'],[2000.23,2000.59,'g'],[2000.96,2001.69,'g'],[2002.06,2002.61,'g'],[2003.34,2003.71,'g'],[2004.44,2004.81,'g'],[2005.54,2005.91,'g'],[2006.64,2007.01,'g'],[2007.93,2008.48,'g'],[2008.66,2010.68,'g'],[2011.05,2011.4,'g'],[2011.7,2012.0,'g'],[2012.3,2012.8,'g'],[2013.0,2013.3,'g'],[2013.6,2014.3,'g']],
/*23*/[[1921.93,1922.73,'g'],[1923.1,1923.65,'g'],[1923.9,1924.93,'g'],[1925.3,1925.85,'g'],[1926.58,1927.06,'g'],[1927.5,1927.87,'g'],[1928.97,1930.8,'g'],[1931.09,1932.27,'g'],[1932.63,1933.18,'g'],[1933.55,1933.92,'g'],[1934.28,1934.83,'g'],[1935.02,1935.75,'g'],[1936.3,1936.85,'g'],[1937.22,1937.77,'g'],[1938.32,1939.42,'g'],[1939.6,1939.97,'g'],[1940.33,1942.17,'g'],[1942.35,1942.9,'g'],[1943.45,1944.73,'g'],[1945.1,1945.65,'g'],[1946.38,1948.03,'m'],[1948.4,1948.77,'g'],[1949.32,1949.87,'g'],[1950.23,1950.6,'g'],[1951.33,1951.7,'g'],[1952.43,1952.8,'g'],[1953.17,1953.72,'g'],[1954.27,1954.82,'g'],[1955.37,1958.06,'g'],[1958.42,1958.97,'g'],[1959.52,1960.07,'g'],[1960.62,1960.99,'g'],[1961.47,1962.09,'g'],[1962.46,1963.01,'m'],[1963.56,1965.02,'g'],[1965.57,1965.94,'g'],[1966.49,1966.86,'g'],[1967.77,1968.14,'g'],[1968.51,1968.87,'g'],[1969.61,1969.97,'g'],[1970.71,1971.07,'g'],[1971.62,1971.99,'g'],[1972.54,1973.09,'g'],[1975.11,1975.29,'g'],[1976.94,1977.12,'g'],[1978.22,1978.78,'g'],[1980.06,1980.61,'g'],[1980.98,1981.16,'g'],[1982.26,1983.36,'o'],[1983.73,1984.09,'g'],[1985.01,1985.19,'g'],[1986.11,1986.48,'g'],[1987.58,1987.76,'g'],[1988.49,1988.75,'g'],[1992.34,1992.53,'g'],[1993.26,1993.44,'g'],[1994.91,1995.09,'g'],[1997.29,2009.94,'m'],[2010.31,2010.68,'g'],[2011.23,2012.7,'m'],[2013.25,2014.3,'g']],
/*24*/[[1921.45,1921.63,'g'],[1921.93,1922.55,'g'],[1922.92,1923.65,'g'],[1923.83,1924.93,'g'],[1925.12,1925.85,'m'],[1925.96,1926.77,'g'],[1926.95,1927.68,'g'],[1928.23,1928.97,'g'],[1929.33,1929.88,'g'],[1930.07,1930.98,'g'],[1931.17,1931.72,'g'],[1932.08,1932.45,'g'],[1932.82,1933.73,'g'],[1933.92,1934.83,'g'],[1935.02,1935.93,'g'],[1936.3,1937.03,'g'],[1937.4,1937.77,'g'],[1938.13,1938.87,'g'],[1939.23,1939.97,'m'],[1943.45,1943.64,'g'],[1944.0,1944.37,'m'],[1971.99,1972.17,'g'],[1972.91,1973.09,'g'],[1973.83,1974.01,'g'],[1984.28,1984.46,'g'],[1985.01,1985.19,'g'],[1986.29,1986.92,'g'],[1987.39,1987.58,'g'],[1988.86,1989.12,'o'],[1989.96,1990.14,'g'],[1991.24,1991.98,'g'],[1992.16,1992.53,'g'],[1993.26,1993.63,'g'],[1994.36,1996.01,'g'],[1996.19,1996.93,'g'],[1997.29,1997.84,'g'],[1998.5,1999.31,'o'],[1999.49,2000.41,'g'],[2000.59,2001.14,'g'],[2001.51,2001.69,'g'],[2001.88,2004.08,'g'],[2004.26,2004.99,'g'],[2006.09,2007.74,'g'],[2007.93,2008.66,'m'],[2009.03,2009.21,'g'],[2009.94,2010.49,'g'],[2011.05,2012.14,'m'],[2012.51,2012.88,'g'],[2013.25,2014.3,'g']],
/*25*/[[1921.34,1923.65,'m'],[1924.13,1924.38,'g'],[1924.75,1925.3,'g'],[1926.03,1926.77,'g'],[1926.95,1927.87,'m'],[1928.23,1928.97,'g'],[1929.33,1929.52,'g'],[1930.07,1930.25,'g'],[1932.08,1932.45,'g'],[1932.63,1933.37,'g'],[1933.73,1935.02,'g'],[1935.57,1936.67,'g'],[1937.22,1937.4,'g'],[1938.13,1938.32,'g'],[1940.15,1940.33,'g'],[1942.35,1942.53,'g'],[1943.27,1943.45,'g'],[1944.19,1944.55,'g'],[1945.1,1945.84,'g'],[1957.32,1958.06,'g'],[1958.42,1958.79,'g'],[1959.52,1959.89,'g'],[1960.44,1960.81,'g'],[1961.54,1961.91,'g'],[1962.46,1963.01,'g'],[1963.56,1964.11,'g'],[1964.47,1964.84,'m'],[1965.39,1965.76,'g'],[1966.49,1967.04,'g'],[1967.77,1969.06,'g'],[1969.61,1969.97,'m'],[1971.07,1971.44,'m'],[1971.62,1972.36,'g'],[1972.72,1973.27,'m'],[1975.47,1975.84,'g'],[1976.76,1977.12,'g'],[1977.97,1978.41,'g'],[1978.78,1979.33,'g'],[1979.69,1980.61,'m'],[1981.71,1983.36,'m'],[1983.91,1984.28,'g'],[1986.11,1986.48,'m'],[1988.31,1988.68,'m'],[1989.41,1989.78,'m'],[1990.8,1991.24,'g'],[1996.56,1996.74,'g'],[1996.93,1997.11,'g'],[1997.48,2000.41,'m'],[2001.14,2001.69,'g'],[2002.79,2003.16,'g'],[2003.34,2003.71,'g'],[2004.26,2014.3,'m']],
/*26*/[[1918.96,1919.43,'g'],[1919.98,1921.34,'m'],[1922.0,1922.37,'g'],[1922.55,1922.92,'g'],[1923.39,1925.48,'m'],[1925.85,1926.22,'g'],[1926.77,1927.87,'m'],[1928.05,1929.15,'g'],[1929.52,1929.88,'g'],[1930.25,1930.8,'m'],[1931.17,1931.9,'m'],[1932.08,1932.45,'g'],[1932.82,1933.18,'g'],[1933.55,1933.92,'g'],[1950.42,1950.6,'g'],[2001.7,2001.85,'g'],[2002.05,2002.2,'g'],[2002.4,2002.55,'g'],[2002.75,2002.9,'g'],[2003.1,2003.25,'g'],[2003.45,2003.6,'g'],[2003.8,2003.95,'g'],[2004.15,2004.3,'g'],[2004.5,2004.65,'m'],[2004.85,2005.0,'g'],[2005.2,2005.35,'g'],[2005.55,2005.7,'g'],[2005.9,2006.05,'g'],[2006.25,2006.4,'g'],[2006.6,2006.75,'g'],[2006.95,2007.1,'g'],[2007.3,2007.45,'m'],[2007.65,2007.8,'g'],[2008.0,2008.15,'g'],[2008.35,2008.5,'g'],[2008.7,2008.85,'g'],[2009.05,2009.2,'g'],[2009.4,2009.55,'g'],[2009.75,2009.9,'m'],[2010.1,2010.25,'g'],[2010.45,2010.6,'g'],[2010.8,2010.95,'g'],[2011.15,2011.3,'g'],[2011.5,2011.65,'g'],[2011.85,2012.0,'g'],[2012.2,2012.35,'m'],[2012.55,2012.7,'g'],[2012.9,2013.05,'g'],[2013.25,2013.4,'g'],[2013.6,2013.75,'g'],[2013.95,2014.1,'g']],
/*27*/[[1918.51,1918.7,'g'],[1919.06,1919.61,'g'],[1919.8,1920.6,'g'],[1921.08,1921.56,'g'],[1921.82,1922.66,'g'],[1922.92,1924.86,'g'],[1924.93,1925.85,'g'],[1926.03,1926.4,'g'],[1926.95,1928.97,'g'],[1929.15,1930.8,'g'],[1931.09,1931.9,'g'],[1932.27,1932.63,'g'],[1933.18,1936.85,'g'],[1937.22,1937.77,'g'],[1938.13,1938.68,'g'],[1939.05,1939.97,'g'],[1940.33,1940.88,'g'],[1941.4,1941.6,'g'],[1941.9,1942.1,'g'],[1942.4,1942.72,'g'],[1943.08,1944.92,'g'],[1945.1,1945.65,'g'],[1946.02,1946.75,'g'],[1947.3,1947.85,'g'],[1948.4,1951.33,'g'],[1951.7,1953.9,'g'],[1954.27,1954.64,'g'],[1955.0,1957.14,'g'],[1957.32,1957.69,'g'],[1958.24,1958.61,'g'],[1959.52,1959.89,'g'],[1960.44,1961.91,'g'],[1963.37,1963.74,'g'],[1963.92,1964.84,'g'],[1965.57,1965.94,'g'],[1966.49,1967.04,'g'],[1967.77,1968.14,'m'],[1968.69,1968.87,'g'],[1969.06,1969.61,'g'],[1984.28,1984.46,'g'],[1999.31,1999.68,'m'],[2002.79,2005.18,'m'],[2011.05,2011.23,'m'],[2011.96,2012.14,'g'],[2012.51,2013.8,'m']],
/*28*/[[1917.97,1918.51,'g'],[1919.98,1920.35,'g'],[1920.9,1921.63,'g'],[1922.0,1922.73,'g'],[1923.03,1923.83,'g'],[1924.13,1924.93,'g'],[1925.12,1926.58,'g'],[1926.69,1927.68,'m'],[1928.05,1928.6,'g'],[1928.97,1929.88,'g'],[1930.07,1930.8,'g'],[1931.17,1931.72,'g'],[1932.08,1932.82,'g'],[1933.0,1933.73,'g'],[1934.1,1934.65,'g'],[1935.02,1935.57,'g'],[1935.93,1936.67,'g'],[1937.4,1937.95,'g'],[1938.13,1938.5,'g'],[1939.42,1942.9,'g'],[1943.27,1944.92,'g'],[1945.1,1946.2,'g'],[1946.57,1946.93,'m'],[1947.3,1947.85,'g'],[1948.4,1948.95,'g'],[1949.32,1949.87,'g'],[1950.23,1952.07,'g'],[1952.43,1952.8,'g'],[1953.35,1955.73,'g'],[1956.1,1958.06,'g'],[1958.42,1960.81,'g'],[1961.54,1962.46,'m'],[1963.01,1963.19,'g'],[1963.56,1963.92,'g'],[1964.47,1965.57,'g'],[1965.87,1967.22,'g'],[1967.77,1968.32,'g'],[1968.87,1972.17,'g'],[1972.72,1973.27,'g'],[1973.83,1974.19,'g'],[1974.74,1976.76,'g'],[1977.12,1977.49,'g'],[1977.86,1978.59,'g'],[1979.14,1981.89,'m'],[1982.44,1982.63,'g'],[1983.73,1984.64,'g'],[1984.94,1986.29,'g'],[1986.66,1987.94,'g'],[1988.31,1989.59,'g'],[1990.14,1991.61,'g'],[1992.16,1992.34,'g'],[1992.89,1993.81,'g'],[1994.18,1994.36,'g'],[1995.46,1996.01,'m'],[1997.48,1997.66,'g'],[1998.5,2002.06,'m'],[2003.34,2004.26,'g'],[2004.44,2004.81,'g'],[2005.91,2006.28,'g'],[2007.01,2007.38,'g'],[2007.93,2009.58,'m'],[2010.13,2010.31,'g'],[2010.86,2011.78,'g'],[2012.33,2012.51,'g'],[2013.06,2014.3,'g']],
/*29*/[[1917.86,1918.33,'g'],[1918.51,1919.61,'m'],[1920.16,1920.71,'g'],[1921.26,1921.63,'g'],[1922.0,1922.55,'g'],[1922.73,1923.47,'g'],[1923.83,1924.57,'g'],[1924.75,1925.3,'g'],[1925.48,1925.85,'m'],[1926.03,1926.77,'g'],[1926.95,1928.6,'g'],[1928.97,1930.07,'m'],[1930.43,1930.8,'g'],[1931.09,1931.9,'g'],[1932.45,1933.55,'g'],[1933.92,1934.83,'g'],[1935.2,1936.12,'g'],[1936.3,1937.22,'m'],[1937.4,1937.77,'g'],[1938.13,1938.5,'g'],[1938.87,1939.23,'g'],[1939.53,1940.52,'m'],[1940.7,1941.62,'m'],[1942.17,1942.53,'g'],[1942.72,1943.64,'m'],[1943.82,1945.1,'m'],[1945.47,1947.3,'m'],[1947.48,1948.4,'g'],[1948.58,1950.97,'m'],[1951.33,1951.7,'g'],[1951.88,1953.9,'m'],[1954.27,1959.16,'g'],[1959.52,1960.44,'g'],[1960.62,1962.27,'m'],[1962.46,1964.47,'m'],[1964.66,1967.41,'m'],[1967.59,1968.14,'g'],[1968.51,1970.89,'g'],[1971.26,1971.62,'g'],[1972.54,1973.27,'g'],[1973.83,1974.74,'g'],[1975.11,1976.94,'g'],[1977.67,1978.96,'g'],[1979.14,1981.71,'m'],[1981.89,1984.64,'g'],[1985.19,1985.38,'g'],[1985.74,1986.11,'g'],[1986.48,1987.58,'g'],[1987.76,1990.88,'g'],[1991.24,1992.16,'m'],[1992.89,1993.99,'g'],[1994.36,1996.56,'m'],[1996.93,1997.11,'g'],[1998.03,1998.39,'g'],[1998.95,1999.49,'g'],[2000.04,2002.98,'m'],[2003.53,2004.08,'g'],[2004.63,2004.99,'g'],[2005.54,2006.46,'g'],[2007.19,2007.56,'g'],[2008.11,2009.21,'m'],[2009.94,2010.68,'g'],[2011.41,2011.78,'g'],[2012.51,2013.8,'g']],
/*30*/[[1913.95,1914.1,'g'],[1914.35,1914.6,'g'],[1914.85,1915.77,'g'],[1915.95,1916.87,'g'],[1917.23,1917.78,'g'],[1918.15,1920.71,'g'],[1920.9,1921.82,'g'],[1922.37,1922.92,'g'],[1923.1,1925.85,'g'],[1926.77,1928.6,'g'],[1928.78,1928.97,'g'],[1929.33,1929.52,'g'],[1930.07,1930.25,'g'],[1930.73,1931.17,'g'],[1931.53,1931.9,'g'],[1932.27,1932.63,'g'],[1932.82,1933.73,'g'],[1934.1,1935.75,'g'],[1936.12,1937.03,'g'],[1937.22,1939.05,'g'],[1939.42,1939.97,'g'],[1940.33,1940.7,'m'],[1941.25,1942.72,'g'],[1942.9,1943.1,'g'],[1943.35,1943.55,'g'],[1943.8,1944.0,'g'],[1944.25,1944.45,'g'],[1944.7,1945.47,'g'],[1945.84,1946.57,'g'],[1946.75,1948.4,'g'],[1948.58,1949.87,'g'],[1950.23,1952.8,'g'],[1953.35,1953.9,'o'],[1954.27,1954.64,'g'],[1955.0,1958.61,'g'],[1958.79,1963.37,'g'],[1963.56,1964.29,'g'],[1965.57,1967.59,'g'],[1967.77,1968.14,'m'],[1968.51,1968.87,'g'],[1970.52,1973.27,'g'],[1973.46,1975.66,'g'],[1975.84,1976.39,'g'],[1976.94,1977.49,'m'],[1977.67,1979.33,'g'],[1979.88,1982.81,'g'],[1982.99,1983.54,'g'],[1984.28,1985.01,'g'],[1985.19,1986.66,'m'],[1986.84,1989.04,'g'],[1989.23,1989.59,'g'],[1989.96,1991.61,'g'],[1991.79,1992.89,'m'],[1993.99,1994.54,'g'],[1994.91,1995.83,'g'],[1996.19,1996.93,'g'],[1997.11,1998.21,'o'],[1998.58,1999.31,'g'],[1999.86,2000.41,'g'],[2000.78,2001.51,'o'],[2001.88,2002.24,'g'],[2002.79,2003.71,'g'],[2004.08,2004.44,'g'],[2004.99,2005.54,'g'],[2005.91,2006.46,'g'],[2006.83,2007.19,'g'],[2007.56,2008.11,'g'],[2008.29,2008.85,'g'],[2009.21,2009.94,'g'],[2010.49,2012.33,'m'],[2012.51,2012.88,'g'],[2013.25,2014.3,'g']],
/*31*/[[1914.48,1914.85,'m'],[1915.22,1915.77,'g'],[1916.06,1916.5,'g'],[1916.87,1917.6,'m'],[1917.97,1918.33,'g'],[1918.51,1919.8,'g'],[1920.9,1921.63,'m'],[1921.82,1922.73,'m'],[1923.1,1923.47,'g'],[1923.83,1925.3,'m'],[1925.48,1925.85,'g'],[1926.03,1926.4,'g'],[1926.95,1928.6,'m'],[1928.97,1929.52,'g'],[1929.7,1930.43,'m'],[1930.98,1931.53,'g'],[1931.9,1932.27,'g'],[1932.82,1934.1,'m'],[1934.28,1935.75,'g'],[1936.12,1937.03,'g'],[1937.77,1938.13,'m'],[1938.5,1939.05,'g'],[1939.42,1940.7,'g'],[1941.07,1942.72,'m'],[1942.9,1944.0,'g'],[1944.19,1945.1,'g'],[1945.28,1947.3,'m'],[1947.48,1948.58,'m'],[1948.77,1949.5,'g'],[1949.68,1950.97,'g'],[1951.15,1952.98,'m'],[1953.35,1953.72,'g'],[1953.9,1956.1,'m'],[1956.28,1957.51,'g'],[1957.51,1959.71,'m'],[1959.89,1960.44,'g'],[1960.62,1962.64,'m'],[1962.82,1965.21,'m'],[1965.39,1966.49,'m'],[1966.75,1967.41,'g'],[1967.59,1968.69,'m'],[1968.87,1972.91,'m'],[1973.64,1974.01,'g'],[1974.37,1974.74,'g'],[1975.11,1975.66,'g'],[1975.84,1976.57,'g'],[1976.94,1991.24,'m'],[1991.79,1992.34,'g'],[1993.26,1997.11,'m'],[1997.48,1997.84,'g'],[1998.14,2004.08,'m'],[2004.44,2005.54,'m'],[2005.73,2006.09,'g'],[2006.28,2010.31,'m'],[2010.68,2011.05,'g'],[2011.23,2014.3,'m']],
/*32*/[[1913.49,1913.75,'g'],[1913.93,1914.3,'m'],[1914.48,1915.77,'g'],[1915.95,1917.97,'g'],[1918.15,1918.51,'m'],[1918.7,1919.43,'g'],[1919.8,1920.71,'g'],[1920.9,1921.63,'g'],[1921.82,1922.73,'g'],[1923.1,1923.65,'g'],[1923.83,1924.93,'m'],[1925.3,1925.85,'g'],[1926.03,1927.5,'g'],[1927.87,1928.97,'g'],[1929.15,1929.88,'g'],[1930.07,1930.8,'g'],[1930.98,1931.53,'g'],[1931.9,1932.82,'g'],[1933.73,1934.1,'g'],[1934.28,1935.02,'g'],[1935.4,1935.6,'m'],[1935.9,1936.1,'m'],[1936.35,1936.67,'m'],[1937.03,1937.77,'g'],[1938.13,1939.42,'g'],[1939.6,1939.97,'g'],[1940.52,1941.07,'g'],[1941.44,1942.9,'g'],[1943.08,1944.92,'g'],[1954.27,1955.0,'g'],[1955.37,1956.1,'g'],[1956.47,1957.69,'g'],[1957.87,1958.97,'g'],[1959.34,1960.26,'g'],[1960.62,1960.99,'g'],[1961.54,1963.19,'g'],[1963.56,1963.92,'g'],[1964.47,1965.21,'g'],[1965.57,1965.94,'g'],[1966.86,1967.22,'g'],[1967.59,1968.32,'g'],[1968.5,1968.7,'g'],[1969.0,1969.2,'g'],[1969.5,1969.79,'g'],[1971.44,1971.81,'g'],[1972.36,1972.91,'g'],[1975.66,1977.12,'g'],[1977.24,1978.78,'g'],[1979.14,1980.61,'m'],[1980.98,1983.36,'g'],[1984.09,1984.64,'g'],[1985.01,1985.56,'g'],[1986.11,1986.48,'g'],[1987.03,1987.58,'g'],[1988.31,1989.04,'g'],[1990.14,1990.33,'g'],[1994.36,1994.54,'g'],[1994.91,1995.46,'g'],[1996.56,1996.74,'g'],[1997.29,1997.48,'g'],[1999.31,1999.49,'g'],[2000.78,2001.14,'g'],[2002.06,2002.43,'g'],[2003.89,2004.44,'o'],[2005.73,2006.09,'g'],[2006.46,2006.83,'g'],[2008.29,2008.66,'g'],[2009.4,2010.13,'g'],[2010.68,2011.05,'o'],[2011.41,2012.51,'m'],[2012.88,2014.3,'g']],
/*33*/[[1913.5,1913.7,'g'],[1913.9,1914.1,'g'],[1952.43,1953.17,'o'],[1953.54,1953.72,'g'],[1954.27,1954.45,'g'],[1957.32,1957.69,'o'],[1960.44,1960.62,'g'],[1966.67,1968.14,'m'],[1968.32,1969.97,'m'],[1970.89,1973.27,'m'],[1974.74,1975.66,'m'],[1975.84,1976.39,'g'],[1976.94,1977.12,'g'],[1977.67,1979.14,'m'],[1979.33,1979.88,'g'],[1980.24,1981.34,'m'],[1982.08,1984.09,'m'],[1984.57,1988.68,'m'],[1992.34,1994.54,'m'],[1995.28,2000.78,'m'],[2001.33,2005.73,'m'],[2006.09,2006.28,'g'],[2008.48,2009.94,'m'],[2010.31,2010.68,'g'],[2011.05,2011.41,'g'],[2011.78,2013.61,'m']],
/*34*/[[1913.12,1913.93,'g'],[1914.12,1915.77,'g'],[1915.95,1916.5,'m'],[1916.87,1918.15,'g'],[1918.15,1919.61,'m'],[1919.8,1921.08,'m'],[1921.26,1926.03,'g'],[1926.22,1926.95,'g'],[1927.13,1927.87,'g'],[1928.05,1928.6,'g'],[1929.15,1931.17,'g'],[1931.53,1932.27,'g'],[1932.63,1933.55,'g'],[1933.92,1935.93,'g'],[1936.12,1938.87,'g'],[1939.42,1939.97,'g'],[1940.33,1941.07,'g'],[1941.44,1942.72,'g'],[1942.9,1945.84,'g'],[1946.2,1947.3,'g'],[1947.48,1948.03,'g'],[1948.22,1949.87,'g'],[1950.23,1950.97,'g'],[1951.33,1952.07,'g'],[1952.43,1952.8,'g'],[1953.17,1955.73,'g'],[1956.1,1957.87,'g'],[1958.42,1960.07,'g'],[1960.44,1960.81,'g'],[1961.36,1962.09,'g'],[1962.46,1962.82,'g'],[1963.19,1963.74,'g'],[1964.11,1964.84,'g'],[1965.57,1965.94,'g'],[1966.67,1967.04,'m'],[1967.41,1967.77,'g'],[1968.14,1968.51,'g'],[1968.87,1969.24,'g'],[1969.79,1969.97,'g'],[1973.83,1974.01,'g'],[1975.29,1979.88,'m'],[1981.16,1981.89,'g'],[1982.08,1982.81,'g'],[1983.18,1983.54,'g'],[1984.28,1986.29,'g'],[1989.23,1990.33,'m'],[1991.24,1991.61,'g'],[1995.46,1995.64,'g'],[1996.19,1997.11,'g'],[1998.03,1998.39,'g'],[1999.13,1999.49,'g'],[1999.86,2000.23,'g'],[2000.59,2000.96,'g'],[2001.33,2001.69,'g'],[2002.43,2002.79,'g'],[2003.34,2003.71,'g'],[2004.44,2004.81,'g'],[2005.36,2005.91,'g'],[2006.46,2007.01,'g'],[2007.38,2007.74,'g'],[2008.11,2008.48,'g'],[2008.85,2010.31,'g'],[2010.7,2010.9,'g'],[2011.1,2011.3,'g'],[2011.5,2011.7,'g'],[2011.9,2012.1,'g'],[2012.3,2012.5,'g'],[2012.7,2012.9,'g'],[2013.1,2013.3,'g'],[2013.5,2013.7,'g'],[2013.9,2014.2,'g']],
/*35*/[[1912.28,1912.54,'g'],[1912.83,1913.38,'g'],[1913.93,1914.67,'g'],[1914.85,1915.58,'g'],[1916.87,1917.42,'g'],[1919.06,1919.25,'g'],[1919.43,1919.61,'g'],[1920.35,1920.71,'g'],[1920.9,1924.2,'g'],[1924.38,1924.75,'m'],[1924.93,1927.5,'g'],[1927.68,1928.05,'m'],[1928.23,1930.8,'g'],[1931.09,1932.45,'g'],[1932.82,1933.37,'g'],[1933.75,1933.95,'m'],[1934.2,1934.4,'m'],[1934.6,1935.02,'m'],[1935.2,1935.57,'g'],[1937.58,1937.77,'g'],[1938.32,1938.5,'g'],[1939.78,1939.97,'g'],[1940.7,1940.88,'g'],[1941.44,1941.62,'g'],[1942.17,1942.35,'g'],[1964.66,1965.94,'g'],[1975.11,1975.29,'g'],[1976.21,1976.39,'g'],[1976.94,1978.04,'g'],[1978.04,1982.44,'g'],[1982.81,1983.18,'g'],[1983.36,1986.29,'g'],[1987.03,1987.58,'g'],[1988.13,1989.23,'g'],[1989.41,1990.14,'m'],[1990.51,1990.88,'g'],[1991.24,1992.34,'g'],[1993.26,1993.63,'g'],[1994.18,1994.91,'g'],[1995.28,1996.01,'g'],[1996.38,1998.03,'o'],[1998.21,1999.49,'g'],[1999.86,2000.23,'g'],[2000.59,2000.96,'g'],[2001.33,2002.43,'g'],[2002.79,2003.53,'g'],[2003.89,2004.81,'g'],[2004.99,2005.91,'g'],[2006.28,2007.93,'g'],[2008.66,2009.94,'m'],[2010.31,2010.86,'g'],[2011.41,2011.78,'g'],[2012.33,2014.3,'m']],
/*36*/[[1911.36,1911.73,'m'],[1911.91,1914.67,'m'],[1914.85,1915.95,'m'],[1916.13,1916.5,'g'],[1916.68,1917.97,'m'],[1918.15,1918.7,'g'],[1918.88,1919.61,'m'],[1919.8,1920.9,'m'],[1921.08,1921.82,'m'],[1922.55,1923.83,'m'],[1924.02,1925.3,'m'],[1925.48,1926.95,'m'],[1927.13,1928.97,'m'],[1934.28,1934.83,'m'],[1935.02,1935.75,'m'],[1935.93,1936.85,'m'],[1937.22,1937.95,'m'],[1938.13,1939.05,'m'],[1939.42,1946.2,'m'],[1949.5,1949.87,'m'],[1950.23,1950.6,'g'],[1950.97,1951.33,'m'],[1951.7,1952.43,'m'],[1952.8,1953.9,'m'],[1954.27,1954.64,'g'],[1955.37,1956.84,'m'],[1957.32,1958.24,'g'],[1958.42,1959.16,'m'],[1959.34,1960.07,'g'],[1960.44,1963.01,'m'],[1963.37,1963.74,'g'],[1964.11,1964.47,'g'],[1965.02,1966.86,'m'],[1967.04,1970.71,'m'],[1971.07,1971.44,'g'],[1971.81,1974.01,'m'],[1974.56,1974.74,'g'],[1975.29,1975.66,'g'],[1975.84,1976.21,'g'],[1977.67,1980.06,'m'],[1980.61,1980.98,'g'],[1981.53,1982.81,'m'],[1982.99,1983.36,'g'],[1983.73,2001.69,'m'],[2002.79,2014.3,'m']],
/*37*/[[1910.19,1910.63,'g'],[1910.81,1913.93,'m'],[1914.3,1914.67,'g'],[1915.03,1915.77,'m'],[1916.13,1916.5,'g'],[1917.16,1917.6,'g'],[1917.78,1918.33,'g'],[1918.51,1922.37,'m'],[1922.55,1925.67,'m'],[1926.03,1927.5,'m'],[1928.42,1929.52,'m'],[1931.9,1932.27,'g'],[1958.97,1959.16,'g'],[1959.52,1960.07,'g'],[1960.62,1964.11,'m'],[1965.57,1966.12,'m'],[1966.49,1967.04,'m'],[1967.59,1968.14,'m'],[1968.51,1969.24,'m'],[1970.34,1971.44,'m'],[1971.62,1973.46,'m'],[1974.01,1974.37,'g'],[1974.74,1976.76,'m'],[1977.12,1977.86,'g'],[1978.04,1979.14,'m'],[1980.06,1982.81,'m'],[1982.99,1983.91,'m'],[1984.28,1984.64,'g'],[1985.01,1985.56,'g'],[1986.48,1986.84,'g'],[1987.58,1987.94,'g'],[1988.31,1988.68,'g'],[1989.23,1989.41,'g'],[1989.96,1990.14,'g'],[1990.51,1990.88,'g'],[1992.89,1993.81,'m'],[1993.99,1994.18,'g'],[1994.91,1995.28,'g'],[1995.83,1996.01,'g'],[1996.38,1996.74,'g'],[1997.11,1997.84,'g'],[1998.5,2000.23,'m'],[2000.96,2008.85,'m'],[2009.21,2013.61,'m'],[2013.8,2014.3,'g']],
/*38*/[[1907.99,1908.43,'m'],[1908.43,1909.6,'g'],[1910.08,1910.63,'g'],[1911.0,1911.55,'g'],[1911.91,1912.46,'g'],[1912.83,1913.56,'g'],[1913.75,1914.48,'g'],[1914.85,1917.6,'g'],[1917.78,1918.7,'g'],[1918.88,1919.61,'g'],[1919.98,1920.9,'g'],[1921.08,1921.82,'g'],[1922.0,1922.73,'g'],[1923.83,1925.3,'g'],[1925.48,1926.03,'g'],[1926.22,1926.77,'g'],[1927.68,1928.42,'m'],[1928.6,1930.8,'g'],[1930.98,1931.9,'g'],[1932.08,1932.45,'g'],[1932.82,1933.37,'g'],[1933.55,1934.83,'g'],[1935.02,1935.75,'g'],[1935.93,1936.67,'g'],[1937.03,1937.77,'g'],[1938.13,1939.23,'g'],[1939.42,1941.44,'g'],[1941.62,1942.35,'g'],[1942.53,1944.0,'g'],[1944.4,1944.6,'g'],[1944.85,1945.05,'g'],[1945.3,1945.5,'g'],[1945.75,1945.95,'g'],[1946.2,1946.4,'g'],[1946.65,1946.93,'g'],[1947.3,1950.05,'g'],[1954.45,1954.82,'g'],[1955.18,1955.73,'g'],[1956.1,1957.14,'g'],[1957.32,1957.51,'g'],[1957.69,1958.06,'g'],[1958.42,1958.79,'g'],[1959.16,1959.52,'g'],[1960.44,1960.81,'g'],[1961.54,1963.01,'g'],[1963.56,1963.92,'g'],[1965.02,1965.39,'g'],[1966.67,1967.04,'g'],[1967.59,1967.96,'g'],[1969.24,1969.61,'g'],[1971.81,1973.27,'m'],[1974.37,1974.56,'g'],[1978.22,1978.41,'g'],[1982.08,1982.99,'m'],[1984.46,1984.64,'g'],[1987.76,1988.31,'g'],[1992.16,1992.34,'g'],[1993.08,1993.26,'g'],[1996.74,1997.11,'g'],[1997.48,1997.84,'g'],[1998.21,1998.95,'g'],[1999.49,1999.68,'g'],[2000.23,2000.59,'g'],[2001.51,2002.24,'g'],[2002.61,2002.98,'g'],[2003.53,2003.71,'g'],[2004.44,2004.81,'g'],[2005.54,2005.73,'g'],[2006.28,2006.46,'g'],[2007.01,2007.19,'g'],[2007.74,2008.11,'g'],[2009.21,2009.58,'g'],[2009.94,2010.31,'g'],[2011.05,2011.41,'g'],[2012.14,2012.51,'g'],[2013.25,2013.8,'g']],
/*39*/[[1903.85,1904.4,'g'],[1904.76,1905.5,'g'],[1905.68,1906.05,'g'],[1907.15,1907.51,'g'],[1908.06,1909.53,'g'],[1910.08,1910.63,'g'],[1911.0,1911.55,'g'],[1912.1,1912.65,'g'],[1913.01,1914.12,'g'],[1914.3,1914.85,'g'],[1915.22,1915.95,'g'],[1916.32,1916.87,'g'],[1917.23,1917.97,'g'],[1918.15,1918.7,'g'],[1919.06,1919.61,'g'],[1919.98,1920.9,'g'],[1922.0,1924.2,'g'],[1924.57,1925.67,'g'],[1926.03,1926.77,'g'],[1927.06,1927.5,'g'],[1928.05,1928.97,'g'],[1929.15,1929.7,'g'],[1930.07,1930.8,'g'],[1931.17,1932.63,'g'],[1932.82,1933.73,'g'],[1934.28,1935.75,'g'],[1936.12,1938.5,'g'],[1938.68,1939.05,'g'],[1939.6,1939.78,'g'],[1940.15,1940.52,'g'],[1941.07,1941.44,'g'],[1941.8,1942.17,'g'],[1943.45,1946.93,'g'],[1947.3,1949.13,'g'],[1949.5,1950.05,'g'],[1950.79,1951.15,'g'],[1951.7,1952.07,'g'],[1952.43,1952.8,'g'],[1953.17,1953.54,'g'],[1954.09,1954.45,'g'],[1955.0,1955.37,'g'],[1955.73,1957.14,'g'],[1957.32,1957.69,'g'],[1958.06,1958.79,'g'],[1959.34,1959.89,'g'],[1960.44,1961.17,'g'],[1961.91,1962.64,'g'],[1963.56,1963.92,'g'],[1964.11,1964.47,'g'],[1965.02,1965.39,'g'],[1966.49,1967.04,'g'],[1967.77,1968.14,'g'],[1970.34,1971.07,'g'],[1971.62,1972.17,'g'],[1972.54,1972.91,'g'],[1974.01,1974.37,'g'],[1974.74,1975.11,'g'],[1975.84,1976.21,'g'],[1977.12,1977.67,'g'],[1978.22,1978.59,'m'],[1979.51,1979.88,'g'],[1980.98,1981.34,'g'],[1982.81,1983.18,'g'],[1986.11,1987.03,'g'],[1991.98,1992.16,'g'],[1992.89,1993.26,'g'],[1993.99,1994.18,'g'],[1995.28,1995.64,'g'],[1996.56,1996.93,'g'],[1997.84,1998.21,'g'],[1998.76,1998.95,'g'],[1999.31,1999.68,'g'],[2000.23,2000.59,'g'],[2001.51,2001.88,'g'],[2002.79,2003.16,'g'],[2004.08,2004.44,'g'],[2005.18,2005.54,'g'],[2006.28,2006.83,'g'],[2007.38,2007.74,'g'],[2008.66,2009.21,'g'],[2009.94,2010.31,'g'],[2011.05,2011.41,'g'],[2012.14,2012.51,'g'],[2013.25,2014.3,'g']],
/*40*/[[1903.85,1904.21,'g'],[1904.4,1904.76,'g'],[1904.95,1905.5,'m'],[1905.68,1906.23,'g'],[1906.41,1906.78,'g'],[1906.96,1907.51,'g'],[1907.7,1908.98,'m'],[1909.53,1910.08,'g'],[1910.26,1913.75,'m'],[1913.93,1914.67,'m'],[1914.85,1915.77,'g'],[1915.95,1916.87,'g'],[1917.23,1918.33,'m'],[1918.51,1918.88,'g'],[1919.06,1919.8,'g'],[1920.16,1922.37,'m'],[1922.55,1925.48,'m'],[1926.03,1926.4,'g'],[1926.77,1927.87,'g'],[1928.05,1929.7,'m'],[1930.07,1931.53,'m'],[1931.9,1932.82,'g'],[1933.18,1934.65,'m'],[1935.02,1935.38,'g'],[1935.57,1935.93,'g'],[1936.3,1936.85,'g'],[1937.22,1937.4,'g'],[1998.55,1998.65,'g'],[1998.9,2007.45,'m'],[2008.05,2014.3,'m']]
];
const kindColors = {g:'#4b4761', m:'#4a3a50', o:'#4c4653'};
const hamletColor = '#add8e6';
const barThickness = 19.6;

const segData = k => rows.flatMap((segs,i)=>segs.filter(s=>s[2]===k).map(s=>({x:[s[0],s[1]], y:i})));

const decor = {
  id:'decor',
  beforeDatasetDraw(chart,args){
    if(args.index!==0) return;
    const {ctx, scales:{x,y}, chartArea} = chart;
    ctx.save();
    ctx.strokeStyle='rgba(225,200,220,0.25)';
    hamlet.forEach(([r,s,e])=>{
      const x0=x.getPixelForValue(s), x1=x.getPixelForValue(e);
      const w=Math.max(1,x1-x0);
      const yc=y.getPixelForValue(r)+barThickness/2;
      ctx.lineWidth=w;
      ctx.beginPath(); ctx.moveTo((x0+x1)/2,yc); ctx.lineTo((x0+x1)/2,chartArea.bottom); ctx.stroke();
    });
    ctx.restore();
  },
  afterDraw(chart){
    const {ctx, scales:{x}, chartArea} = chart;
    ctx.save();
    ctx.strokeStyle='#ffffff'; ctx.lineWidth=4.2; ctx.lineCap='round'; ctx.setLineDash([0,7.45]);
    const ay=chartArea.bottom+0.4;
    ctx.beginPath(); ctx.moveTo(x.getPixelForValue(decades[0]),ay); ctx.lineTo(chartArea.right,ay); ctx.stroke();
    decades.forEach(d=>{const px=x.getPixelForValue(d); ctx.beginPath(); ctx.moveTo(px,ay+7.2); ctx.lineTo(px,chart.height+4); ctx.stroke();});
    ctx.restore();
  }
};

new Chart(document.getElementById('c'),{
  type:'bar',
  data:{datasets:[
    {label:'Hamlet',data:hamlet.map(h=>({x:[h[1],h[2]],y:h[0]})),backgroundColor:hamletColor},
    {label:'olive',data:segData('o'),backgroundColor:kindColors.o},
    {label:'maroon',data:segData('m'),backgroundColor:kindColors.m},
    {label:'gray',data:segData('g'),backgroundColor:kindColors.g}
  ]},
  options:{
    indexAxis:'y', responsive:false, animation:false, devicePixelRatio:1, events:[],
    layout:{padding:{left:147,right:166.4,top:115.35,bottom:0}},
    datasets:{bar:{barThickness:barThickness,grouped:false,borderWidth:0,borderSkipped:false,inflateAmount:0}},
    plugins:{legend:{display:false},tooltip:{enabled:false},title:{display:false}},
    scales:{
      x:{type:'linear',position:'bottom',min:1900,max:2014.3,offset:false,
        grid:{display:false,drawTicks:false,offset:false},border:{display:false},
        afterBuildTicks:s=>{s.ticks=decades.map(v=>({value:v}));},
        afterFit:s=>{s.height=59.35;},
        ticks:{autoSkip:false,maxRotation:0,align:'start',labelOffset:9,padding:28,color:'#e6e4ec',
          font:{family:'Roboto',weight:300,size:23,lineHeight:1.2},callback:v=>String(v)}},
      y:{type:'linear',min:-0.5,max:40.5,reverse:true,display:false,offset:false,grid:{offset:false}}
    }
  },
  plugins:[decor]
});
</script></body></html>
